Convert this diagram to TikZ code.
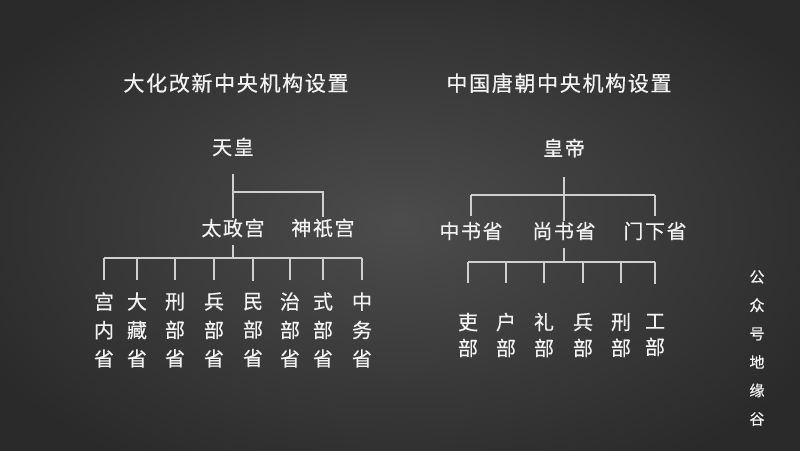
\documentclass[tikz,border=0pt]{standalone}
\usepackage{fontspec}
\usepackage{xcolor}
\newfontfamily\cjk[LetterSpace=8, FakeBold=0.5]{Noto Sans CJK SC}
\definecolor{bgin}{HTML}{4C4C4C}
\definecolor{bgout}{HTML}{2A2A2A}
\definecolor{ink}{HTML}{F2F2F2}
\definecolor{wire}{HTML}{CFCFCF}
\usetikzlibrary{calc}

\begin{document}
\begin{tikzpicture}[x=1pt, y=-1pt,
    every node/.style={text=ink, inner sep=1pt},
    title/.style={font=\cjk\fontsize{21}{21}\selectfont},
    office/.style={font=\cjk\fontsize{20}{20}\selectfont},
    column/.style={align=center, font=\cjk\fontsize{20}{28.5}\selectfont},
    rcolumn/.style={align=center, font=\cjk\fontsize{20}{26}\selectfont},
    link/.style={draw=wire, line width=1.4pt}]
    \useasboundingbox (0,0) rectangle (800,450);
    \shade[inner color=bgin, outer color=bgout] (-80,-60) rectangle (880,510);

    \node[title] (tleft) at (236, 83) {大化改新中央机构设置};
    \node[title] (tright) at (559, 83) {中国唐朝中央机构设置};

    % Taika
    \node[office] (tenno) at (233, 147) {天皇};
    \node[office] (taisei) at (233, 228) {太政宫};
    \node[office] (jingi) at (323, 228) {神祇宫};
    \node[column] (lb1) at (104, 330) {宫\\内\\省};
    \node[column] (lb2) at (137, 330) {大\\藏\\省};
    \node[column] (lb3) at (175, 330) {刑\\部\\省};
    \node[column] (lb4) at (214, 330) {兵\\部\\省};
    \node[column] (lb5) at (253, 330) {民\\部\\省};
    \node[column] (lb6) at (290, 330) {治\\部\\省};
    \node[column] (lb7) at (323, 330) {式\\部\\省};
    \node[column] (lb8) at (362, 330) {中\\务\\省};

    \coordinate (ljoin) at (233, 192);
    \coordinate (lbar) at (233, 258);
    \draw[link] (tenno.south) ++(0, 17) -- (taisei.north);
    \draw[link] (ljoin) -| (jingi.north);
    \draw[link, shorten <=7pt] (taisei.south) -- (lbar);
    \draw[link] (lbar -| lb1) -- (lbar -| lb8);
    \foreach \i in {1,...,8}
        \draw[link, shorten >=11pt] (lbar -| lb\i) -- (lb\i.north);

    % Tang
    \node[office] (huangdi) at (564, 148) {皇帝};
    \node[office] (zhongshu) at (471, 231) {中书省};
    \node[office] (shangshu) at (564, 231) {尚书省};
    \node[office] (menxia) at (655, 231) {门下省};
    \node[rcolumn] (rb1) at (468, 335) {吏\\部};
    \node[rcolumn] (rb2) at (506, 335) {户\\部};
    \node[rcolumn] (rb3) at (544, 335) {礼\\部};
    \node[rcolumn] (rb4) at (583, 335) {兵\\部};
    \node[rcolumn] (rb5) at (621, 335) {刑\\部};
    \node[rcolumn] (rb6) at (655, 335) {工\\部};

    \coordinate (rjoin) at (564, 195);
    \coordinate (rbar) at (564, 262);
    \draw[link] (huangdi.south) ++(0, 19) -- (shangshu.north);
    \draw[link, shorten >=5pt] (rjoin -| zhongshu) -- (zhongshu.north);
    \draw[link, shorten >=5pt] (rjoin -| menxia) -- (menxia.north);
    \draw[link] (rjoin -| zhongshu) -- (rjoin -| menxia);
    \draw[link, shorten <=7pt] (shangshu.south) -- (rbar);
    \draw[link] (rbar -| rb1) -- (rbar -| rb6);
    \foreach \i in {1,...,6}
        \draw[link, shorten >=29pt] (rbar -| rb\i) -- (rb\i.north);

    \node[align=center, font=\cjk\fontsize{15}{28.4}\selectfont] (credit) at (757, 348)
        {公\\众\\号\\地\\缘\\谷};
\end{tikzpicture}
\end{document}
